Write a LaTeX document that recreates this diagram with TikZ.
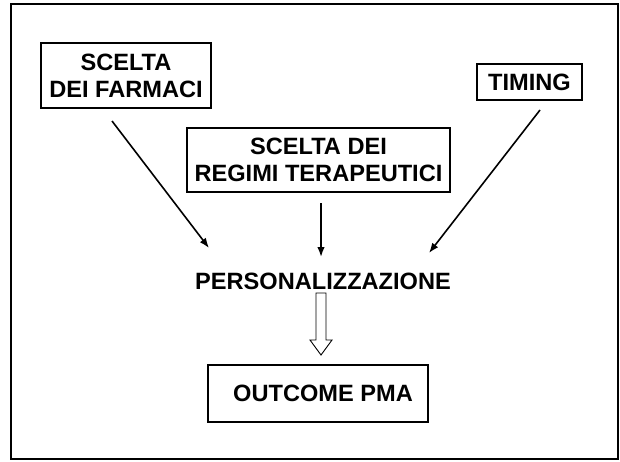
\documentclass[tikz,border=0pt]{standalone}
\usepackage{fontspec}
\setmainfont{Liberation Sans}
\usetikzlibrary{arrows.meta}
\begin{document}
\begin{tikzpicture}[x=1pt,y=-1pt,
  every node/.style={font=\fontsize{23.6}{27}\selectfont\bfseries, align=center, inner sep=0pt},
  box/.style={draw, line width=2pt, rectangle},
  conn/.style={line width=1.6pt, -{Latex[length=10pt,width=7.5pt]}},
  hollow/.style={draw, line width=0.9pt, fill=white}]
\useasboundingbox (0,0) rectangle (620,461);
\draw[line width=2.6pt] (11,4) rectangle (618,459);
\node[box, minimum width=170pt, minimum height=65pt] (farm) at (126,75.5) {SCELTA\\DEI FARMACI};
\node[box, minimum width=263pt, minimum height=64pt] (reg) at (318.5,160) {SCELTA DEI\\REGIMI TERAPEUTICI};
\node[box, minimum width=105pt, minimum height=36pt] (tim) at (529.5,82) {TIMING};
\node (pers) at (323,281) {PERSONALIZZAZIONE};
\node[box, minimum width=220pt, minimum height=57pt] (out) at (318,393.5) {\hspace*{10pt}OUTCOME PMA};
\coordinate (a1) at (112,121);
\coordinate (b1) at (209,248);
\coordinate (a2) at (321,203);
\coordinate (b2) at (321,257);
\coordinate (a3) at (540,110);
\coordinate (b3) at (429,253);
\draw[conn] (a1) -- (b1);
\draw[conn] (a2) -- (b2);
\draw[conn] (a3) -- (b3);
\draw[hollow] (316,293) -- (326,293) -- (326,340) -- (332,340) -- (321,355) -- (310,340) -- (316,340) -- cycle;
\end{tikzpicture}
\end{document}
